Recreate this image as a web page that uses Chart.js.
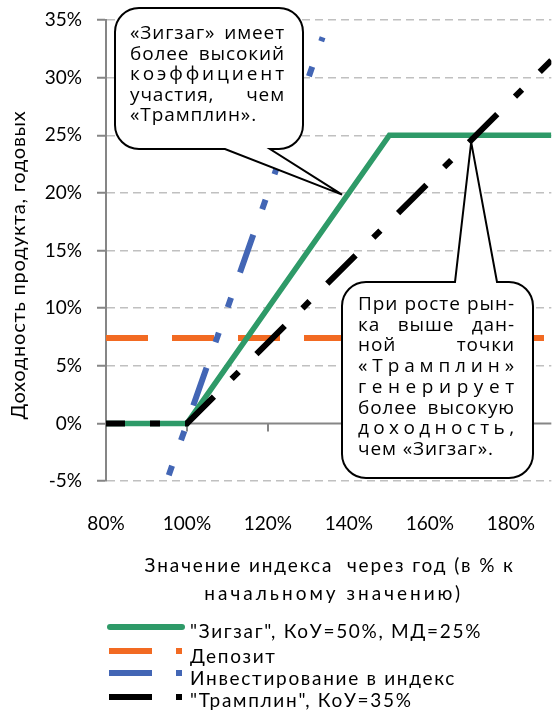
<!DOCTYPE html>
<html>
<head>
<meta charset="utf-8">
<script src="https://cdn.jsdelivr.net/npm/chart.js@4"></script>
<style>
  html, body { margin: 0; padding: 0; background: #fff; }
  #wrap { width: 558px; height: 713px; }
</style>
</head>
<body>
<div id="wrap"><canvas id="c" width="558" height="713"></canvas></div>
<script>
const FONT = 'Lato, "Open Sans", sans-serif';
const NOTE_FONT = '"Open Sans", "Noto Sans", sans-serif';

// axis ticks (index value, % of start; annual yield, %)
const xTicks = [80, 100, 120, 140, 160, 180];
const yTicks = [-5, 0, 5, 10, 15, 20, 25, 30, 35];

// payoff profiles: index value (x) -> annual yield (y)
const zigzagX = [80, 100, 150, 190];
const zigzagY = [0, 0, 25, 25];
const depositX = [80, 190];
const depositY = [7.4, 7.4];
const indexX = [95.5, 133.5];
const indexY = [-4.5, 33.5];
const trampX = [80, 100, 190];
const trampY = [0, 0, 31.5];

const seriesNames = [
  '"Зигзаг", КоУ=50%, МД=25%',
  'Депозит',
  'Инвестирование в индекс',
  '"Трамплин", КоУ=35%'
];
const yTitle = 'Доходность продукта, годовых';
const xTitleLines = ['Значение индекса  через год (в % к', 'начальному значению)'];
const note1 = ['«Зигзаг» имеет', 'более высокий', 'коэффициент', 'участия, чем', '«Трамплин».'];
const note2 = ['При росте рын-', 'ка выше дан-', 'ной точки', '«Трамплин»', 'генерирует',
               'более высокую', 'доходность,', 'чем «Зигзаг».'];
// points the callouts refer to (x: index %, y: yield %)
const note1Tip = { x: 138.3, y: 19.85 };
const note2Tip = { x: 170.2, y: 24.4 };

const COLORS = ['#2E9A68', '#F26A22', '#4366B5', '#000000'];
const legendDash = [null, [43, 24], [43, 24], [43, 24]];

const pts = (xs, ys) => xs.map((x, i) => ({ x: x, y: ys[i] }));

function justifyLine(ctx, text, left, width, y, justify) {
  if (!justify) { ctx.fillText(text, left, y); return; }
  const words = text.split(' ');
  if (words.length > 1) {
    const ws = words.map(w => ctx.measureText(w).width);
    const total = ws.reduce((a, b) => a + b, 0);
    const gap = (width - total) / (words.length - 1);
    let x = left;
    words.forEach((w, i) => { ctx.fillText(w, x, y); x += ws[i] + gap; });
  } else {
    const chars = Array.from(text);
    const cs = chars.map(c => ctx.measureText(c).width);
    const total = cs.reduce((a, b) => a + b, 0);
    const gap = (width - total) / (chars.length - 1);
    let x = left;
    chars.forEach((c, i) => { ctx.fillText(c, x, y); x += cs[i] + gap; });
  }
}

function bubblePath(ctx, box, rad, ptr) {
  const L = box.l, T = box.t, R = box.r, B = box.b;
  ctx.beginPath();
  ctx.moveTo(L + rad, T);
  if (ptr.side === 'top') {
    ctx.lineTo(ptr.a, T); ctx.lineTo(ptr.tx, ptr.ty); ctx.lineTo(ptr.c, T);
  }
  ctx.lineTo(R - rad, T);
  ctx.arcTo(R, T, R, T + rad, rad);
  ctx.lineTo(R, B - rad);
  ctx.arcTo(R, B, R - rad, B, rad);
  if (ptr.side === 'bottom') {
    ctx.lineTo(ptr.c, B); ctx.lineTo(ptr.tx, ptr.ty); ctx.lineTo(ptr.a, B);
  }
  ctx.lineTo(L + rad, B);
  ctx.arcTo(L, B, L, B - rad, rad);
  ctx.lineTo(L, T + rad);
  ctx.arcTo(L, T, L + rad, T, rad);
  ctx.closePath();
}

function drawNote(ctx, box, ptr, lines, textBox) {
  ctx.save();
  bubblePath(ctx, box, 24, ptr);
  ctx.fillStyle = '#fff';
  ctx.fill();
  ctx.lineWidth = 2;
  ctx.strokeStyle = '#000';
  ctx.lineJoin = 'miter';
  ctx.stroke();
  ctx.fillStyle = '#000';
  ctx.font = '19px ' + NOTE_FONT;
  ctx.letterSpacing = '0.9px';
  ctx.textBaseline = 'alphabetic';
  ctx.textAlign = 'left';
  lines.forEach((ln, i) => {
    justifyLine(ctx, ln, textBox.left, textBox.width, textBox.base + i * textBox.step, i < lines.length - 1);
  });
  ctx.restore();
}

const overlay = {
  id: 'overlay',
  beforeDatasetsDraw(chart) {
    const { ctx, chartArea, scales: { x, y } } = chart;
    const y0 = y.getPixelForValue(0);
    ctx.save();
    ctx.strokeStyle = '#868686';
    ctx.lineWidth = 2;
    ctx.beginPath();
    ctx.moveTo(chartArea.left, y0);
    ctx.lineTo(chartArea.right, y0);
    xTicks.forEach(v => {
      const px = Math.round(x.getPixelForValue(v));
      ctx.moveTo(px, y0);
      ctx.lineTo(px, y0 + 8);
    });
    ctx.stroke();
    ctx.restore();
  },
  afterDraw(chart) {
    const { ctx, chartArea, scales: { x, y } } = chart;

    // callouts
    drawNote(ctx, { l: 115, t: 8, r: 303, b: 149 },
      { side: 'bottom', a: 225, c: 270, tx: x.getPixelForValue(note1Tip.x), ty: y.getPixelForValue(note1Tip.y) },
      note1, { left: 130, width: 155, base: 39, step: 20.6 });
    drawNote(ctx, { l: 342, t: 282, r: 533, b: 478 },
      { side: 'top', a: 455, c: 497, tx: x.getPixelForValue(note2Tip.x), ty: y.getPixelForValue(note2Tip.y) },
      note2, { left: 358, width: 157, base: 310, step: 20.7 });

    ctx.save();
    ctx.fillStyle = '#000';

    // y axis title
    ctx.save();
    ctx.font = '20px ' + FONT;
    ctx.letterSpacing = '0.75px';
    ctx.translate(19, 265);
    ctx.rotate(-Math.PI / 2);
    ctx.textAlign = 'center';
    ctx.textBaseline = 'middle';
    ctx.fillText(yTitle, 0, 0);
    ctx.restore();

    // x axis title
    ctx.save();
    ctx.font = '19px ' + FONT;
    const cx = (chartArea.left + chartArea.right) / 2;
    ctx.textAlign = 'center';
    ctx.textBaseline = 'alphabetic';
    ctx.letterSpacing = '1.9px';
    ctx.fillText(xTitleLines[0], cx + 1, 572);
    ctx.letterSpacing = '3px';
    ctx.fillText(xTitleLines[1], cx + 5, 600);
    ctx.restore();

    // legend
    const sampleY = [627, 651, 673, 697];
    const textY = [638, 663, 685, 707];
    ctx.font = '19px ' + FONT;
    ctx.letterSpacing = '1.7px';
    ctx.textAlign = 'left';
    chart.data.datasets.forEach((ds, i) => {
      ctx.save();
      ctx.strokeStyle = ds.borderColor;
      ctx.lineWidth = 6;
      if (legendDash[i]) {
        ctx.setLineDash(legendDash[i]);
        ctx.lineCap = 'butt';
        ctx.beginPath();
        ctx.moveTo(109, sampleY[i]);
        ctx.lineTo(182, sampleY[i]);
      } else {
        ctx.lineCap = 'round';
        ctx.beginPath();
        ctx.moveTo(110, sampleY[i]);
        ctx.lineTo(182, sampleY[i]);
      }
      ctx.stroke();
      ctx.restore();
      ctx.fillText(ds.label, 190, textY[i]);
    });
    ctx.restore();
  }
};

new Chart(document.getElementById('c'), {
  type: 'line',
  data: {
    datasets: [
      { label: seriesNames[0], data: pts(zigzagX, zigzagY), borderColor: COLORS[0],
        borderWidth: 5.5, order: 1, borderJoinStyle: 'miter' },
      { label: seriesNames[1], data: pts(depositX, depositY), borderColor: COLORS[1],
        borderWidth: 6, borderDash: [42, 24], order: 3 },
      { label: seriesNames[2], data: pts(indexX, indexY), borderColor: COLORS[2],
        borderWidth: 6, borderDash: [10, 27, 10, 27, 40, 27], order: 2 },
      { label: seriesNames[3], data: pts(trampX, trampY), borderColor: COLORS[3],
        borderWidth: 6, borderDash: [40, 25, 10, 25], borderDashOffset: 21, order: 0,
        borderJoinStyle: 'miter' }
    ]
  },
  options: {
    responsive: false,
    animation: false,
    devicePixelRatio: 1,
    layout: { padding: { top: 20, right: 0, bottom: 0, left: 0 } },
    elements: { point: { radius: 0 }, line: { tension: 0, fill: false } },
    plugins: { legend: { display: false }, tooltip: { enabled: false } },
    scales: {
      x: {
        type: 'linear', min: 80, max: 190,
        afterBuildTicks: s => { s.ticks = xTicks.map(v => ({ value: v })); },
        afterFit: s => { s.height = 232; },
        grid: { display: false },
        border: { display: false },
        ticks: { padding: 23, maxRotation: 0, autoSkip: false, color: '#000',
                 font: { family: FONT, size: 19 }, callback: v => v + '%' }
      },
      y: {
        type: 'linear', min: -5, max: 35,
        afterBuildTicks: s => { s.ticks = yTicks.map(v => ({ value: v })); },
        afterFit: s => { s.width = 106; s.paddingTop = 0; s.paddingBottom = 0; },
        grid: {
          color: c => (c.tick && c.tick.value === 0) ? 'rgba(0,0,0,0)' : '#c0c0c0',
          lineWidth: 1.5, tickColor: '#868686', tickWidth: 2, tickLength: 9
        },
        border: { display: true, color: '#868686', width: 2, dash: [8, 5] },
        ticks: { padding: 15, color: '#000', font: { family: FONT, size: 19 },
                 callback: v => v + '%' }
      }
    }
  },
  plugins: [overlay]
});
</script>
</body>
</html>
